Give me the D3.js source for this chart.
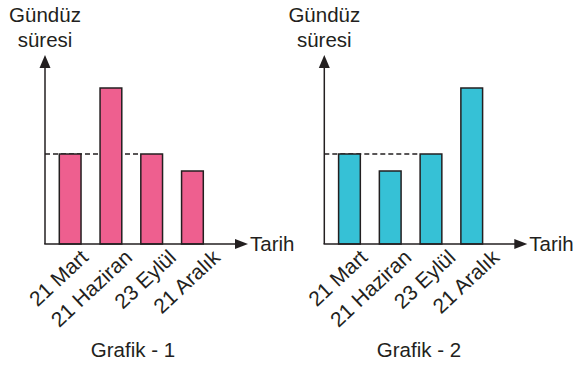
<!DOCTYPE html>
<html>
<head>
<meta charset="utf-8">
<script src="https://cdn.jsdelivr.net/npm/d3@7"></script>
<style>
  html, body { margin: 0; padding: 0; background: #fff; }
  svg { display: block; }
  text { font-family: "Liberation Sans", Arial, Helvetica, sans-serif; fill: #231f20; }
</style>
</head>
<body>
<svg id="chart" width="578" height="370"></svg>
<script>
// ---- data ----
const categories = ["21 Mart", "21 Haziran", "23 Eylül", "21 Aralık"];
const values1 = [9, 15.6, 9, 7.3];   // Grafik - 1 (relative day length)
const values2 = [9, 7.3, 9, 15.6];   // Grafik - 2
const referenceValue = 9;             // dashed reference line (21 Mart level)
const yMax = 18.6;
const titles = ["Grafik - 1", "Grafik - 2"];
const yLabel = ["Gündüz", "süresi"];
const xLabel = "Tarih";
const colors = ["#ee5f8f", "#36c1d6"];

const svg = d3.select("#chart");
const ink = "#231f20";

function drawChart(originX, values, color, title, titleX) {
  const g = svg.append("g");
  const base = 244, top = 58;
  const y = d3.scaleLinear().domain([0, yMax]).range([base, top]);
  const x = d3.scaleBand().domain(categories)
    .range([originX + 14.3, originX + 158.3])
    .paddingInner(0.467).paddingOuter(0);
  // label anchor scale (end of rotated labels)
  const xl = d3.scalePoint().domain(categories)
    .range([originX + 44, originX + 176]);

  // dashed reference line (behind bars), from axis to 3rd bar
  g.append("line")
    .attr("x1", originX).attr("x2", x(categories[2]))
    .attr("y1", y(referenceValue)).attr("y2", y(referenceValue))
    .attr("stroke", ink).attr("stroke-width", 1.5)
    .attr("stroke-dasharray", "5,3");

  // bars
  g.selectAll("rect.bar").data(values).join("rect")
    .attr("class", "bar")
    .attr("x", (d, i) => x(categories[i]))
    .attr("width", x.bandwidth())
    .attr("y", d => y(d))
    .attr("height", d => y(0) - y(d))
    .attr("fill", color)
    .attr("stroke", ink).attr("stroke-width", 1.5);

  // y axis with arrow
  g.append("line").attr("x1", originX).attr("x2", originX)
    .attr("y1", base).attr("y2", top + 4)
    .attr("stroke", ink).attr("stroke-width", 1.5);
  g.append("path")
    .attr("d", `M${originX},${top - 3} L${originX - 5.5},${top + 10} L${originX + 5.5},${top + 10} Z`)
    .attr("fill", ink);

  // x axis with arrow
  const xEnd = originX + 203;
  g.append("line").attr("x1", originX - 0.75).attr("x2", xEnd - 6)
    .attr("y1", base).attr("y2", base)
    .attr("stroke", ink).attr("stroke-width", 1.5);
  g.append("path")
    .attr("d", `M${xEnd},${base} L${xEnd - 13},${base - 5} L${xEnd - 13},${base + 5} Z`)
    .attr("fill", ink);

  // category labels via axis
  const ax = g.append("g").attr("transform", `translate(0,${base + 15})`)
    .call(d3.axisBottom(xl).tickSize(0).tickPadding(0));
  ax.select(".domain").remove();
  ax.selectAll("text")
    .attr("x", 0).attr("y", 0).attr("dy", null)
    .attr("text-anchor", "end")
    .attr("transform", "rotate(-43)")
    .style("font-family", '"Liberation Sans", Arial, Helvetica, sans-serif')
    .style("font-size", "21px")
    .attr("fill", ink);

  // y label
  g.append("text").attr("x", originX).attr("y", 22)
    .attr("text-anchor", "middle").style("font-size", "20.5px").text(yLabel[0]);
  g.append("text").attr("x", originX).attr("y", 47)
    .attr("text-anchor", "middle").style("font-size", "20.5px").text(yLabel[1]);

  // x label
  g.append("text").attr("x", xEnd + 2).attr("y", 251)
    .style("font-size", "20.5px").text(xLabel);

  // title
  g.append("text").attr("x", titleX).attr("y", 357)
    .attr("text-anchor", "middle").style("font-size", "20.5px").text(title);
}

drawChart(45, values1, colors[0], titles[0], 133);
drawChart(324.3, values2, colors[1], titles[1], 419);
</script>
</body>
</html>
